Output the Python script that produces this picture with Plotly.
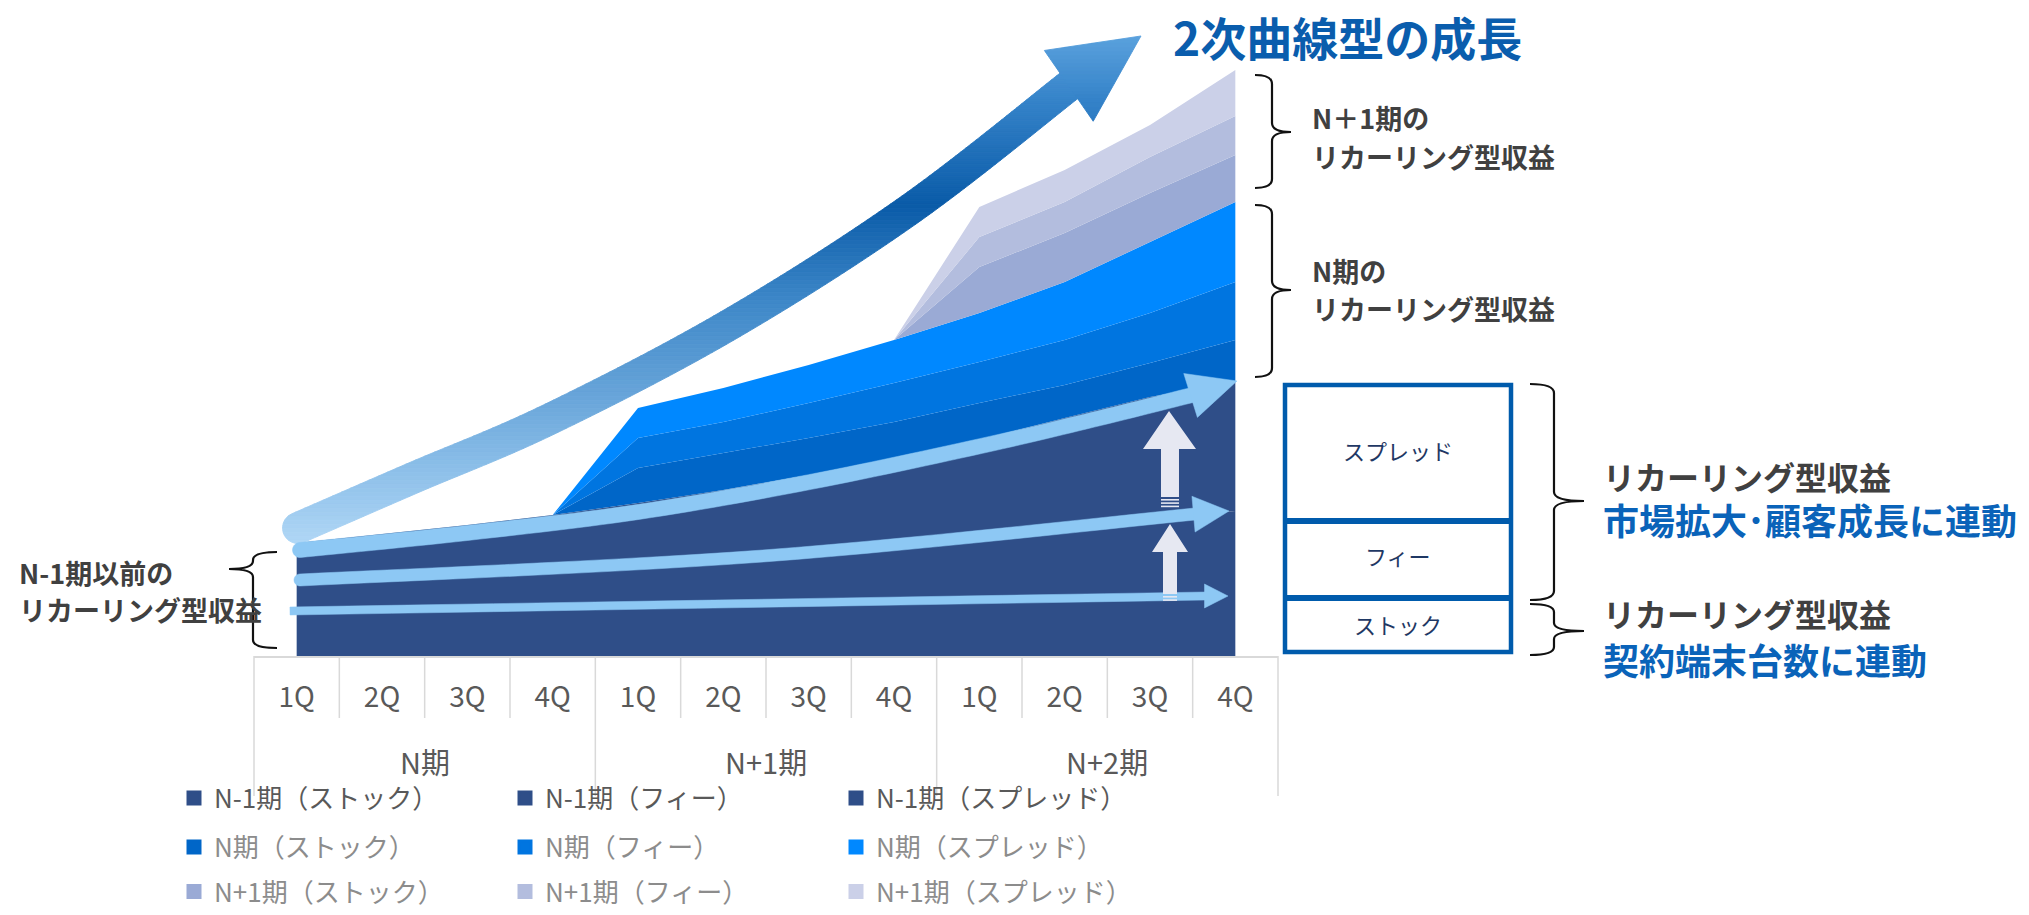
import numpy as np
import plotly.graph_objects as go

W, H = 2029, 915

# ---------------- data ----------------
periods = ["N期", "N+1期", "N+2期"]
quarters = ["1Q", "2Q", "3Q", "4Q"]
categories = [f"{p} {q}" for p in periods for q in quarters]
tick_labels = quarters * 3

n1_stock = [46, 46, 46, 46, 46, 46, 46, 46, 46, 46, 46, 46]
n1_fee = [30, 34, 39, 43, 48, 52, 59, 67, 75, 83, 91, 99]
n1_spread = [37, 42, 46, 52, 59, 68, 76, 85, 95, 109, 122, 129]
n_stock = [0, 0, 0, 0, 35, 37, 37, 36, 37, 33, 34, 42]
n_fee = [0, 0, 0, 0, 30, 31, 35, 39, 41, 45, 50, 58]
n_spread = [0, 0, 0, 0, 30, 34, 38, 43, 49, 58, 71, 80]
np1_stock = [0, 0, 0, 0, 0, 0, 0, 0, 46, 49, 49, 47]
np1_fee = [0, 0, 0, 0, 0, 0, 0, 0, 30, 31, 36, 39]
np1_spread = [0, 0, 0, 0, 0, 0, 0, 0, 30, 32, 32, 46]

series_names = [
    "N-1期（ストック）", "N-1期（フィー）", "N-1期（スプレッド）",
    "N期（ストック）", "N期（フィー）", "N期（スプレッド）",
    "N+1期（ストック）", "N+1期（フィー）", "N+1期（スプレッド）",
]
series_values = [n1_stock, n1_fee, n1_spread, n_stock, n_fee, n_spread,
                 np1_stock, np1_fee, np1_spread]
series_colors = ["#2F4E88", "#2F4E88", "#2F4E88",
                 "#0066C8", "#0075E0", "#0088FF",
                 "#9AAAD5", "#B3BDDE", "#CBD0E8"]
series_legends = ["legend"] * 3 + ["legend2"] * 3 + ["legend3"] * 3

FONT = "Noto Sans CJK JP"

# ---------------- helpers (decoration geometry in pixels) ----------------
def px(x):
    return x / W


def py(y):
    return 1 - y / H


def path_from(pts):
    return "M " + " L ".join(f"{px(x):.5f},{py(y):.5f}" for x, y in pts) + " Z"


def catmull(pts, n=14):
    P = [pts[0]] + list(pts) + [pts[-1]]
    out = []
    for i in range(1, len(P) - 2):
        p0, p1, p2, p3 = [np.array(p, float) for p in P[i - 1:i + 3]]
        for t in np.linspace(0, 1, n, endpoint=False):
            t2, t3 = t * t, t * t * t
            out.append(0.5 * ((2 * p1) + (-p0 + p2) * t
                              + (2 * p0 - 5 * p1 + 4 * p2 - p3) * t2
                              + (-p0 + 3 * p1 - 3 * p2 + p3) * t3))
    out.append(np.array(pts[-1], float))
    return np.array(out)


def arrow_parts(center_pts, width, hw, tip, round_start=True):
    if len(center_pts) > 2:
        c = catmull(center_pts)
    else:
        c = np.linspace(np.array(center_pts[0], float), np.array(center_pts[1], float), 10)
    d = np.gradient(c, axis=0)
    d /= np.linalg.norm(d, axis=1)[:, None]
    nrm = np.stack([d[:, 1], -d[:, 0]], axis=1)
    r = width / 2
    left = c + nrm * r
    right = c - nrm * r
    base = c[-1]
    tipv = np.array(tip, float)
    ax = tipv - base
    ax /= np.linalg.norm(ax)
    bn = np.array([ax[1], -ax[0]])
    shaft = [tuple(p) for p in left] + [tuple(p) for p in right[::-1]]
    if round_start:
        c0, d0, n0 = c[0], d[0], nrm[0]
        for th in np.linspace(0, np.pi, 16)[1:-1]:
            shaft.append(tuple(c0 - n0 * r * np.cos(th) - d0 * r * np.sin(th)))
    back = base - ax * 1.5  # tiny overlap with shaft
    head = [tuple(back + bn * hw), tuple(tipv), tuple(back - bn * hw)]
    return shaft, head


def clip_band(poly, y0, y1):
    def clip(pl, inside, yc):
        out = []
        for i in range(len(pl)):
            cur, prev = pl[i], pl[i - 1]

            def inter(a, b):
                t = (yc - a[1]) / (b[1] - a[1])
                return (a[0] + t * (b[0] - a[0]), yc)
            if inside(cur):
                if not inside(prev):
                    out.append(inter(prev, cur))
                out.append(cur)
            elif inside(prev):
                out.append(inter(prev, cur))
        return out
    p = clip(poly, lambda q: q[1] >= y0, y0)
    if len(p) < 3:
        return []
    p = clip(p, lambda q: q[1] <= y1, y1)
    return p if len(p) >= 3 else []


def hex2rgb(h):
    h = h.lstrip("#")
    return np.array([int(h[i:i + 2], 16) for i in (0, 2, 4)], float)


grad_stops = [(30, "#5EA4DF"), (100, "#3583C9"), (205, "#0A5BA8"),
              (300, "#3D87C8"), (400, "#6AA6DA"), (460, "#88BCE7"),
              (550, "#B3D9F7")]


def grad_color(y):
    ys = [s[0] for s in grad_stops]
    cols = [hex2rgb(s[1]) for s in grad_stops]
    c = cols[0] if y <= ys[0] else cols[-1]
    for i in range(len(ys) - 1):
        if ys[i] <= y <= ys[i + 1]:
            t = (y - ys[i]) / (ys[i + 1] - ys[i])
            c = cols[i] * (1 - t) + cols[i + 1] * t
            break
    return "rgb(%d,%d,%d)" % tuple(np.round(c).astype(int))


shapes = []


def add_poly(pts, color, lw=0):
    shapes.append(dict(type="path", xref="paper", yref="paper", path=path_from(pts),
                       fillcolor=color, line=dict(color=color, width=lw), layer="above"))


def add_line(x0, y0, x1, y1, color, width):
    shapes.append(dict(type="line", xref="paper", yref="paper", x0=px(x0), y0=py(y0),
                       x1=px(x1), y1=py(y1), line=dict(color=color, width=width)))


def add_brace(xe, xb, xt, y0, ym, y1, r=9):
    pts = [
        f"M {px(xe):.5f},{py(y0):.5f}",
        f"Q {px(xb):.5f},{py(y0):.5f} {px(xb):.5f},{py(y0 + r):.5f}",
        f"L {px(xb):.5f},{py(ym - r):.5f}",
        f"Q {px(xb):.5f},{py(ym):.5f} {px(xt):.5f},{py(ym):.5f}",
        f"Q {px(xb):.5f},{py(ym):.5f} {px(xb):.5f},{py(ym + r):.5f}",
        f"L {px(xb):.5f},{py(y1 - r):.5f}",
        f"Q {px(xb):.5f},{py(y1):.5f} {px(xe):.5f},{py(y1):.5f}",
    ]
    shapes.append(dict(type="path", xref="paper", yref="paper", path=" ".join(pts),
                       line=dict(color="#111111", width=2.2)))


def add_gradient(poly, step=4):
    ys_all = [p[1] for p in poly]
    yb = min(ys_all) - 0.5
    while yb < max(ys_all) + 0.5:
        band = clip_band(poly, yb, yb + step)
        if band:
            add_poly(band, grad_color(yb + step / 2), lw=0.9)
        yb += step


# ---------------- figure ----------------
fig = go.Figure()
for name, vals, col, lg in zip(series_names, series_values, series_colors, series_legends):
    fig.add_trace(go.Scatter(
        x=categories, y=vals, name=name, stackgroup="one", mode="none",
        fillcolor=col, legend=lg, showlegend=False, legendgroup=name, hoverinfo="name+y"))
# legend keys (square swatches like the original legend)
for name, col, lg in zip(series_names, series_colors, series_legends):
    fig.add_trace(go.Bar(x=[None], y=[None], name=name, marker_color=col,
                         marker_line=dict(color=col, width=3), legend=lg,
                         legendgroup=name, showlegend=True, hoverinfo="skip"))

X0, X1 = 254, 1278
Y_BASE = 656

# axis dividers
for k in range(13):
    xk = X0 + k * (X1 - X0) / 12
    add_line(xk, Y_BASE, xk, 796 if k % 4 == 0 else 718, "#D9D9D9", 1.5)

# big gradient arrow
shaft, head = arrow_parts([(298, 528), (413, 478), (550, 419), (729, 325), (909, 210), (1070, 85)],
                          31, 43, (1141, 36), round_start=True)
add_gradient(shaft)
add_gradient(head)

LIGHT = "#8DC8F4"
for pts, wdt, hw, tip, rs in [
    ([(300, 550), (467, 533), (638, 512), (810, 482), (981, 446), (1100, 418), (1192, 395)],
     15, 23, (1237, 381), True),
    ([(300, 580), (763, 556), (1195, 514)], 12, 18, (1229, 511), True),
    ([(290, 611), (1206, 596)], 8, 12, (1228, 596), False),
]:
    s, h = arrow_parts(pts, wdt, hw, tip, round_start=rs)
    add_poly(s, LIGHT, lw=0.5)
    add_poly(h, LIGHT, lw=0.5)

# white up arrows
UP = "#E6E8F2"
add_poly([(1161, 497), (1161, 449), (1143, 449), (1169, 411), (1196, 449), (1179, 449),
          (1179, 497)], UP)
for yy in (499, 502.3, 505.6):
    add_poly([(1161, yy), (1179, yy), (1179, yy + 1.6), (1161, yy + 1.6)], UP)
add_poly([(1163, 594), (1163, 552), (1152, 552), (1170, 524), (1188, 552), (1177, 552),
          (1177, 594)], UP)
for yy in (596, 599.3):
    add_poly([(1163, yy), (1177, yy), (1177, yy + 1.6), (1163, yy + 1.6)], UP)

# box
BOX = "#005BAC"
shapes.append(dict(type="rect", xref="paper", yref="paper", x0=px(1285), x1=px(1511),
                   y0=py(652), y1=py(385), line=dict(color=BOX, width=4.5)))
add_line(1285, 521, 1511, 521, BOX, 6)
add_line(1285, 598, 1511, 598, BOX, 6)

# braces
add_brace(1255, 1272, 1291, 75, 132, 188)
add_brace(1255, 1272, 1291, 205, 290, 377)
add_brace(1530, 1554, 1584, 384, 501, 600)
add_brace(1530, 1554, 1584, 604, 631, 655, r=8)
add_brace(277, 253, 229, 552, 569, 648, r=8)

# ---------------- annotations ----------------
ann = []
TXT_DY = -4  # CJK font metrics sit slightly low when middle-anchored


def add_text(x, y, text, size, color, bold=False, xanchor="left"):
    ann.append(dict(x=px(x), y=py(y + TXT_DY), xref="paper", yref="paper", text=text,
                    showarrow=False, xanchor=xanchor, yanchor="middle",
                    font=dict(family=FONT, size=size, color=color,
                              weight="bold" if bold else "normal")))


add_text(1171, 40, "2次曲線型の成長", 46, "#0A5DAD", bold=True)
add_text(1310, 122, "N＋1期の", 27, "#404040", bold=True)
add_text(1310, 160, "リカーリング型収益", 27, "#404040", bold=True)
add_text(1310, 274, "N期の", 27, "#404040", bold=True)
add_text(1310, 312, "リカーリング型収益", 27, "#404040", bold=True)
add_text(17, 576, "N-1期以前の", 27, "#404040", bold=True)
add_text(17, 613, "リカーリング型収益", 27, "#404040", bold=True)
add_text(1601, 480, "リカーリング型収益", 32, "#404040", bold=True)
add_text(1601, 523, "市場拡大･顧客成長に連動", 36, "#0A63B9", bold=True)
add_text(1601, 617, "リカーリング型収益", 32, "#404040", bold=True)
add_text(1601, 663, "契約端末台数に連動", 36, "#0A63B9", bold=True)
add_text(1398, 454, "スプレッド", 22, "#1F3864", xanchor="center")
add_text(1398, 559, "フィー", 22, "#1F3864", xanchor="center")
add_text(1398, 628, "ストック", 22, "#1F3864", xanchor="center")
for g, p in enumerate(periods):
    add_text(X0 + (4 * g + 2) * (X1 - X0) / 12, 765, p, 29, "#595959", xanchor="center")

legend_common = dict(orientation="h", xanchor="left",
                     bgcolor="rgba(0,0,0,0)", entrywidthmode="pixels", entrywidth=286,
                     traceorder="normal", itemclick=False, itemdoubleclick=False)

fig.update_layout(
    width=W, height=H, autosize=False,
    margin=dict(l=0, r=0, t=0, b=0, pad=0),
    paper_bgcolor="white", plot_bgcolor="white",
    font=dict(family=FONT, color="#595959"),
    xaxis=dict(type="category", domain=[px(X0), px(X1)], range=[-0.5, 11.5],
               tickmode="array", tickvals=categories, ticktext=tick_labels,
               tickfont=dict(size=28, color="#595959", family=FONT),
               ticks="outside", ticklen=16, tickcolor="rgba(0,0,0,0)",
               showline=True, linecolor="#D9D9D9", linewidth=1.5,
               showgrid=False, zeroline=False, fixedrange=True),
    yaxis=dict(domain=[1 - Y_BASE / H, 1], range=[0, Y_BASE], visible=False,
               showgrid=False, zeroline=False, fixedrange=True),
    legend=dict(x=px(174), y=py(798), yanchor="middle",
                font=dict(size=26, color="#595959", family=FONT), **legend_common),
    legend2=dict(x=px(174), y=py(847), yanchor="middle",
                 font=dict(size=26, color="#8C8C8C", family=FONT), **legend_common),
    legend3=dict(x=px(174), y=0, yanchor="bottom",
                 font=dict(size=26, color="#8C8C8C", family=FONT), **legend_common),
    shapes=shapes,
    annotations=ann,
    showlegend=True,
    barmode="overlay",
)

fig.write_html("out.html", include_plotlyjs=True, full_html=True,
               config={"displayModeBar": False},
               post_script="document.body.style.margin='0';document.body.style.overflow='hidden';")
